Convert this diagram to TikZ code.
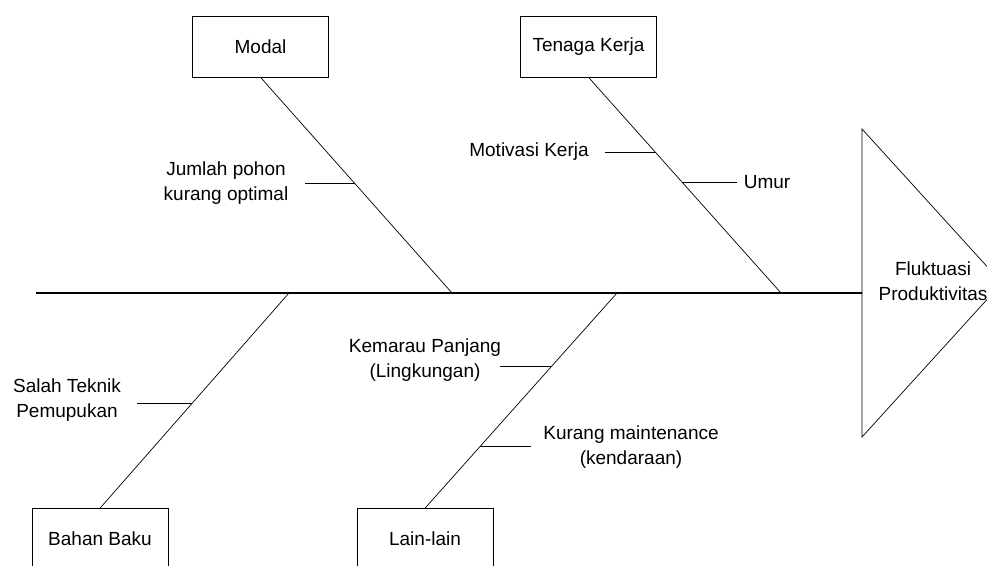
\documentclass[tikz,border=0pt]{standalone}
\usepackage{fontspec}
\setmainfont{Liberation Sans}
\usetikzlibrary{positioning, calc}

\begin{document}
\begin{tikzpicture}[x=1pt, y=-1pt,
  every node/.style={font=\fontsize{19}{25}\selectfont},
  cause/.style={draw, line width=0.6pt, minimum width=136pt, minimum height=61pt, inner sep=0pt},
  note/.style={align=center, inner sep=0pt},
  bone/.style={line width=0.7pt},
  tick/.style={line width=1.2pt}]
\useasboundingbox (0,0) rectangle (987,565);
\clip (0,0) rectangle (987,565);
% head
\draw[line width=0.7pt] (862,129) -- (1002,283) -- (862,437) -- cycle;
\node[note] (effect) at (933,281) {Fluktuasi\\Produktivitas};
% spine
\coordinate (tail) at (36,293);
\coordinate (head) at (862,293);
\coordinate (sp_bahan) at (289,293);
\coordinate (sp_modal) at (452,293);
\coordinate (sp_lain) at (617,293);
\coordinate (sp_tenaga) at (781,293);
\draw[line width=1.4pt] (tail) -- (head);
% causes
\node[cause] (modal) at (260.5,46.5) {Modal};
\node[cause] (tenaga) at (588.5,46.5) {Tenaga Kerja};
\node[cause] (bahan) at (100,539) {Bahan Baku};
\node[cause] (lain) at (425,539) {Lain-lain};
\draw[bone] (modal.south) -- node[coordinate, pos=0.491] (b_jumlah) {} (sp_modal);
\draw[bone] (tenaga.south) -- node[coordinate, pos=0.347] (b_motivasi) {}
  node[coordinate, pos=0.486] (b_umur) {} (sp_tenaga);
\draw[bone] (bahan.north) -- node[coordinate, pos=0.485] (b_salah) {} (sp_bahan);
\draw[bone] (lain.north) -- node[coordinate, pos=0.285] (b_kurang) {}
  node[coordinate, pos=0.657] (b_kemarau) {} (sp_lain);
% sub causes
\node[note] (jumlah) at (226,183.5) {Jumlah pohon\\kurang optimal};
\node[note] (motivasi) at (529,152) {Motivasi Kerja};
\node[note] (umur) at (767,182) {Umur};
\node[note] (salah) at (67,400) {Salah Teknik\\Pemupukan};
\node[note] (kemarau) at (425,360) {Kemarau Panjang\\(Lingkungan)};
\node[note] (kurang) at (631,447) {Kurang maintenance\\(kendaraan)};
\coordinate (e_jumlah) at (305,0);
\coordinate (e_motivasi) at (605,0);
\coordinate (e_umur) at (737,0);
\coordinate (e_salah) at (137,0);
\coordinate (e_kemarau) at (500,0);
\coordinate (e_kurang) at (531,0);
\foreach \s in {jumlah, motivasi, umur, salah, kemarau, kurang}
  \draw[tick] (b_\s) -- (b_\s -| e_\s);
\end{tikzpicture}
\end{document}
